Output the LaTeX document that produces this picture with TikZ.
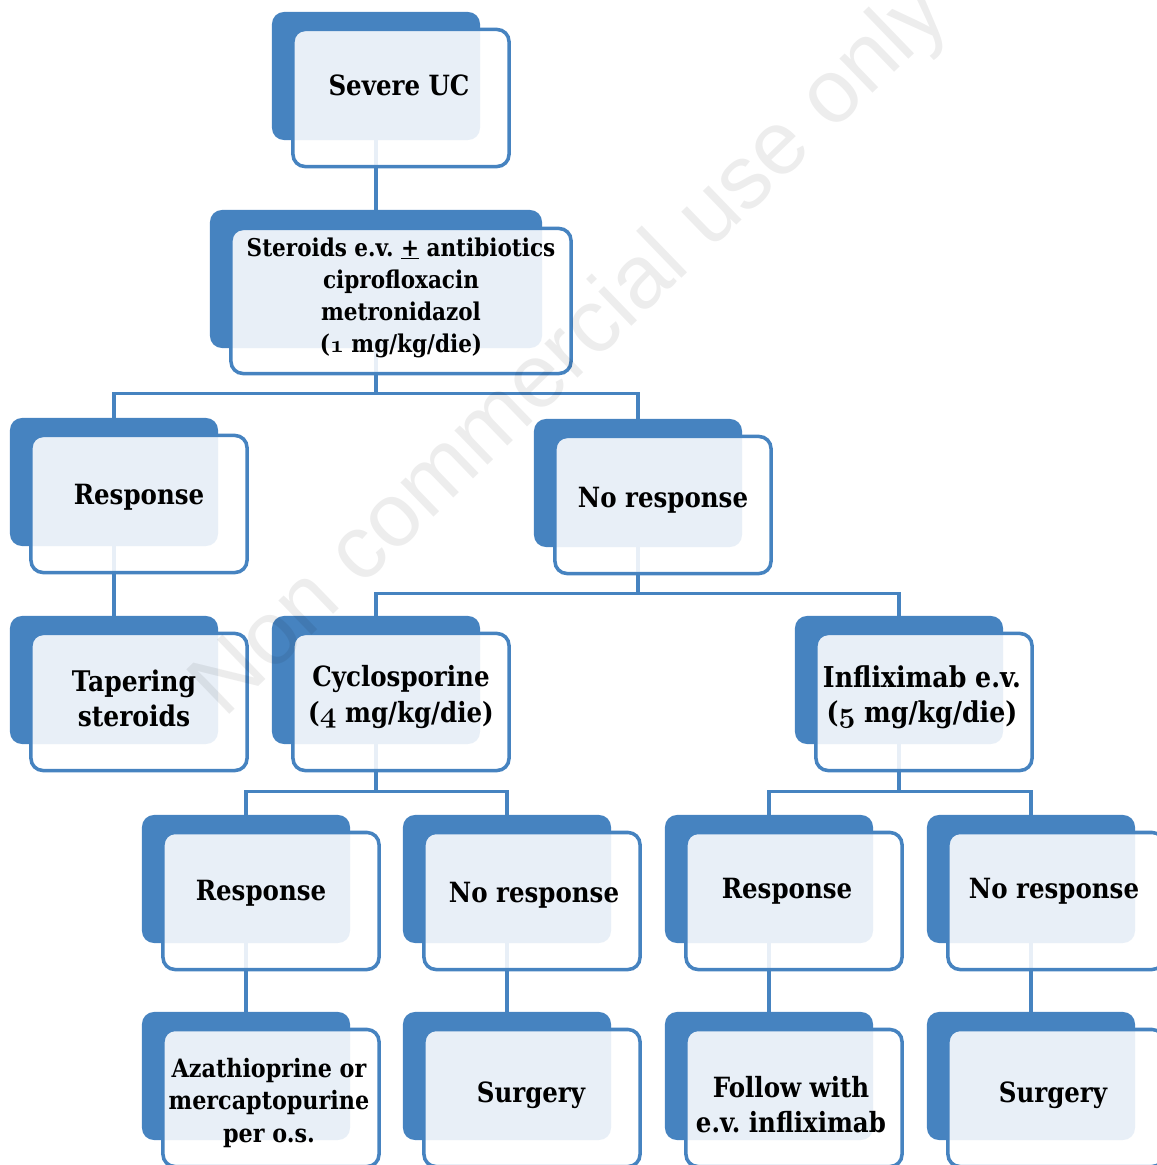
\documentclass[tikz,border=0pt]{standalone}
\usepackage{fontspec}
\setmainfont{DejaVu Serif}[FakeStretch=0.88]
\newfontfamily\markfont{Liberation Sans}
\usetikzlibrary{positioning}
\frenchspacing

\definecolor{boxblue}{RGB}{70,131,192}
\newcommand\osnum[1]{{\usefont{OML}{cmm}{b}{it}#1}}

\tikzset{
	backbox/.style={fill=boxblue, draw=none, rounded corners=0.3cm, minimum width=5.2cm, minimum height=3.2cm, inner sep=0pt},
	frontbox/.style={draw=boxblue, line width=2.5pt, fill=white, fill opacity=0.88, rounded corners=0.3cm, minimum width=5.4cm, minimum height=3.425cm, inner sep=0pt},
	boxtext/.style={black, align=center, font=\fontsize{19.8}{24.9}\selectfont\bfseries, inner sep=0pt},
	link/.style={draw=boxblue, line width=2.2pt},
	watermark/.style={black, text opacity=0.07, font=\fontsize{64}{70}\selectfont\markfont, inner sep=0pt}
}

\begin{document}
\begin{tikzpicture}[x=0.025cm, y=-0.025cm]
	\clip (0,0) rectangle (1157,1165);
	% back boxes
	\node[backbox] (uc-b) at (376,76) {};
	\node[backbox, minimum width=8.3cm, minimum height=3.45cm] (ster-b) at (376,279) {};
	\node[backbox] (resp-b) at (114,482) {};
	\node[backbox] (nores-b) at (638,483) {};
	\node[backbox] (taper-b) at (114,680) {};
	\node[backbox] (cyclo-b) at (376,680) {};
	\node[backbox] (infl-b) at (899,680) {};
	\node[backbox] (cresp-b) at (246,879) {};
	\node[backbox] (cnores-b) at (507,879) {};
	\node[backbox] (iresp-b) at (769,879) {};
	\node[backbox] (inores-b) at (1031,879) {};
	\node[backbox] (aza-b) at (246,1076) {};
	\node[backbox] (csurg-b) at (507,1076) {};
	\node[backbox] (follow-b) at (769,1076) {};
	\node[backbox] (isurg-b) at (1031,1076) {};
	% connectors
	\draw[link] (uc-b.south) -- (ster-b.north);
	\draw[link] (ster-b.south) -- ++(0,45) -| (resp-b.north);
	\draw[link] (ster-b.south) -- ++(0,45) -| (nores-b.north);
	\draw[link] (resp-b.south) -- (taper-b.north);
	\draw[link] (nores-b.south) -- ++(0,46) -| (cyclo-b.north);
	\draw[link] (nores-b.south) -- ++(0,46) -| (infl-b.north);
	\draw[link] (cyclo-b.south) -- ++(0,47) -| (cresp-b.north);
	\draw[link] (cyclo-b.south) -- ++(0,47) -| (cnores-b.north);
	\draw[link] (infl-b.south) -- ++(0,47) -| (iresp-b.north);
	\draw[link] (infl-b.south) -- ++(0,47) -| (inores-b.north);
	\draw[link] (cresp-b.south) -- (aza-b.north);
	\draw[link] (cnores-b.south) -- (csurg-b.north);
	\draw[link] (iresp-b.south) -- (follow-b.north);
	\draw[link] (inores-b.south) -- (isurg-b.north);
	% front boxes
	\node[frontbox] (uc) at (401,98) {};
	\node[frontbox, minimum width=8.5cm, minimum height=3.625cm] (ster) at (401,301) {};
	\node[frontbox] (resp) at (139,504) {};
	\node[frontbox] (nores) at (663,505) {};
	\node[frontbox] (taper) at (139,702) {};
	\node[frontbox] (cyclo) at (401,702) {};
	\node[frontbox] (infl) at (924,702) {};
	\node[frontbox] (cresp) at (271,901) {};
	\node[frontbox] (cnores) at (532,901) {};
	\node[frontbox] (iresp) at (794,901) {};
	\node[frontbox] (inores) at (1056,901) {};
	\node[frontbox] (aza) at (271,1098) {};
	\node[frontbox] (csurg) at (532,1098) {};
	\node[frontbox] (follow) at (794,1098) {};
	\node[frontbox] (isurg) at (1056,1098) {};
	% texts
	\node[boxtext] (uc-t) at (399,85) {Severe UC};
	\node[boxtext, font=\fontsize{17.4}{22.8}\selectfont\bfseries] (ster-t) at (401,298) {Steroids e.v. \underline{+} antibiotics\\ciprofloxacin\\metronidazol\\(\osnum{1} mg/kg/die)};
	\node[boxtext] (resp-t) at (139,497) {Response};
	\node[boxtext] (nores-t) at (663,500) {No response};
	\node[boxtext, font=\fontsize{20.2}{24.9}\selectfont\bfseries] (taper-t) at (134,698) {Tapering\\steroids};
	\node[boxtext] (cyclo-t) at (401,697) {Cyclosporine\\(\osnum{4} mg/kg/die)};
	\node[boxtext, font=\fontsize{20.4}{24.9}\selectfont\bfseries] (infl-t) at (922,697) {Infliximab e.v.\\(\osnum{5} mg/kg/die)};
	\node[boxtext] (cresp-t) at (261,893) {Response};
	\node[boxtext] (cnores-t) at (534,895) {No response};
	\node[boxtext] (iresp-t) at (787,891) {Response};
	\node[boxtext] (inores-t) at (1054,891) {No response};
	\node[boxtext, font=\fontsize{18}{23.1}\selectfont\bfseries] (aza-t) at (269,1103) {Azathioprine or\\mercaptopurine\\per o.s.};
	\node[boxtext] (csurg-t) at (531,1095) {Surgery};
	\node[boxtext] (follow-t) at (791,1105) {Follow with\\e.v. infliximab};
	\node[boxtext] (isurg-t) at (1053,1095) {Surgery};
	% watermark
	\node[watermark, rotate=44] (mark) at (572,352) {Non commercial use only};
\end{tikzpicture}
\end{document}
